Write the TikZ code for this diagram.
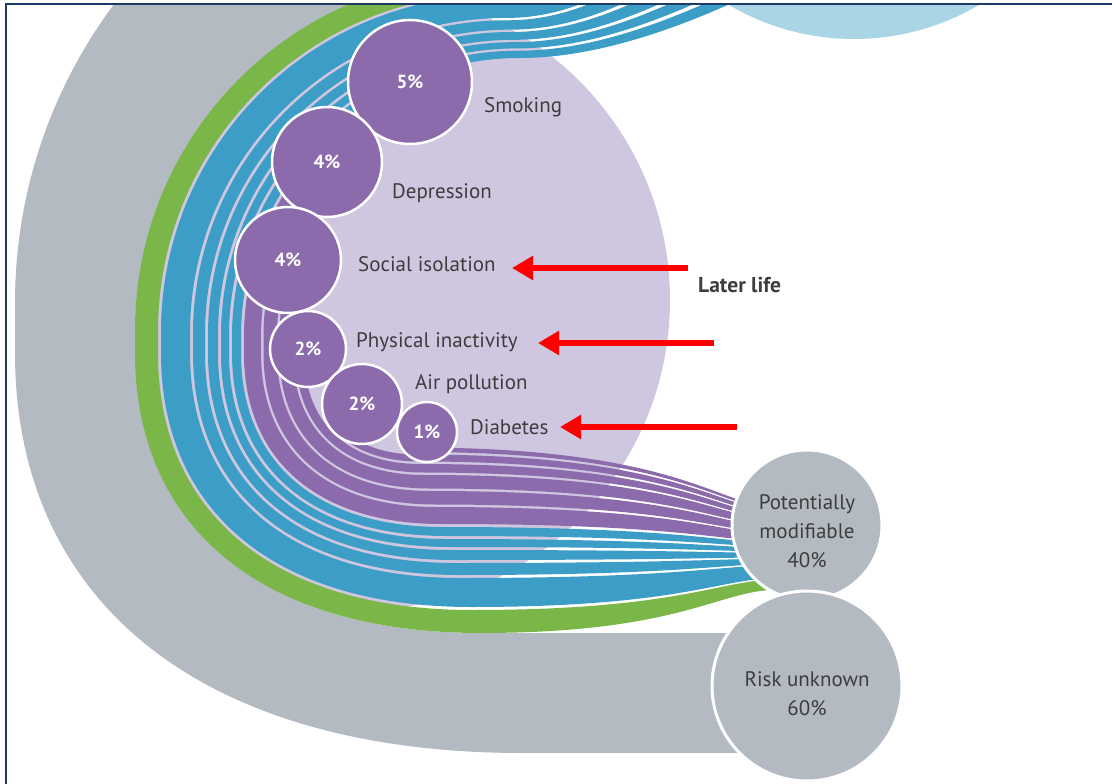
\documentclass[tikz,border=0pt]{standalone}
\usepackage{fontspec}
\setmainfont{PT Sans}
\usetikzlibrary{arrows.meta}

\definecolor{bandgray}{HTML}{B4BAC1}
\definecolor{bandgreen}{HTML}{7AB648}
\definecolor{bandblue}{HTML}{3C9EC6}
\definecolor{bandpurple}{HTML}{8C6BAC}
\definecolor{lavender}{HTML}{CFC6E0}
\definecolor{skyblue}{HTML}{A9D5E4}
\definecolor{labelgray}{HTML}{3D3D3D}
\definecolor{framenavy}{HTML}{1C3A63}
\definecolor{arrowred}{HTML}{FF0000}

% Geometry of one ribbon edge lying #1 units inside the outer rim.
% Results are stored in macros whose names start with the prefix #2.
\newcommand\edgeparams[2]{%
  \pgfmathsetmacro\tmpd{#1}%
  \pgfmathsetmacro\tmpt{max(0,min(1,(\tmpd-120)/105))}%
  \pgfmathsetmacro\tmpbx{523-0.3541*\tmpd}%
  \expandafter\pgfmathsetmacro\csname #2cx\endcsname{490+30*\tmpt}%
  \expandafter\pgfmathsetmacro\csname #2cy\endcsname{330+7*\tmpt}%
  \expandafter\pgfmathsetmacro\csname #2Rt\endcsname{490+30*\tmpt-15-\tmpd}%
  \expandafter\pgfmathsetmacro\csname #2Ty\endcsname{330+7*\tmpt-(490+30*\tmpt-15-\tmpd)}%
  \expandafter\pgfmathsetmacro\csname #2Lx\endcsname{15+\tmpd}%
  \expandafter\pgfmathsetmacro\csname #2Bx\endcsname{\tmpbx}%
  \expandafter\pgfmathsetmacro\csname #2By\endcsname{753-\tmpd}%
  \expandafter\pgfmathsetmacro\csname #2Ky\endcsname{353+0.62*(400-\tmpd)}%
  \expandafter\pgfmathsetmacro\csname #2Kx\endcsname{\tmpbx-0.636*(\tmpbx-15-\tmpd)}%
  \expandafter\pgfmathsetmacro\csname #2yE\endcsname{590-0.4474*(\tmpd-120)}%
  \expandafter\pgfmathsetmacro\csname #2Ex\endcsname{650+120*\tmpt}%
  \expandafter\pgfmathsetmacro\csname #2Ey\endcsname{-120+105*\tmpt}%
  \expandafter\pgfmathsetmacro\csname #2Ca\endcsname{650+120*\tmpt-80}%
  \expandafter\pgfmathsetmacro\csname #2Cb\endcsname{-120+105*\tmpt+40}%
  \expandafter\pgfmathsetmacro\csname #2Cc\endcsname{490+30*\tmpt+80}%
}

% One ribbon between the insets #1 (outer) and #2 (inner), filled with #3.
\newcommand\ribbon[3]{%
  \edgeparams{#1}{A}\edgeparams{#2}{B}%
  \fill[#3] (\AEx,\AEy) .. controls (\ACa,\ACb) and (\ACc,\ATy) .. (\Acx,\ATy)
    arc[start angle=270,end angle=180,radius=\ARt] -- (\ALx,353)
    .. controls (\ALx,\AKy) and (\AKx,\ABy) .. (\ABx,\ABy)
    .. controls (680,\ABy) and (720,\AyE) .. (775,\AyE)
    -- (775,\ByE) .. controls (720,\ByE) and (680,\BBy) .. (\BBx,\BBy)
    .. controls (\BKx,\BBy) and (\BLx,\BKy) .. (\BLx,353) -- (\BLx,\Bcy)
    arc[start angle=180,end angle=270,radius=\BRt]
    .. controls (\BCc,\BTy) and (\BCa,\BCb) .. (\BEx,\BEy) -- cycle;%
}

% A later-life ribbon that starts under its bubble: cut along the ray
% from (#3,#4) at angle #5 and keep the downstream part.
\newcommand\factorribbon[5]{%
  \begin{scope}
    \clip (#3,#4) -- +(#5:1200) -- +({#5*2/3}:1200) -- +({#5/3}:1200) -- +(0:1200) -- cycle;
    \ribbon{#1}{#2}{bandpurple}
  \end{scope}%
}

\begin{document}
\begin{tikzpicture}[x=1pt,y=-1pt,
  bubble/.style={circle,fill=bandpurple,draw=white,line width=2.5pt,inner sep=0pt,
    text=white,font=\fontsize{19}{22}\selectfont\bfseries},
  factorlabel/.style={anchor=base west,text=labelgray,font=\fontsize{21}{25}\selectfont,inner sep=0pt},
  shareball/.style={circle,fill=bandgray,draw=white,line width=3pt,inner sep=0pt},
  sharetext/.style={align=center,text=labelgray,font=\fontsize{21}{29}\selectfont,inner sep=0pt},
  pointer/.style={draw=arrowred,line width=6.5pt,-{Triangle[length=21pt,width=23pt]}}]

\useasboundingbox (0,0) rectangle (1112,784);

\begin{scope}
  \clip (7,5) rectangle (1112,784);
  % background disc behind the later-life factors
  \fill[lavender] (360,300) circle[radius=310];

  % unknown-risk band
  \edgeparams{120}{G}
  \fill[bandgray] (515,-197) arc[start angle=270,end angle=180,radius=500] -- (15,353)
    .. controls (15,601) and (200,753) .. (523,753) -- (770,753) -- (770,633) -- (\GBx,633)
    .. controls (\GKx,633) and (135,\GKy) .. (135,353) -- (135,330)
    arc[start angle=180,end angle=270,radius=355] -- cycle;

  % early life
  \ribbon{120}{143}{bandgreen}
  % midlife
  \ribbon{146}{175}{bandblue}
  \ribbon{178}{190}{bandblue}
  \ribbon{193}{203}{bandblue}
  \ribbon{206}{214}{bandblue}
  \ribbon{217}{226}{bandblue}
  % later life
  \factorribbon{229}{246}{520}{337}{246.7}
  \factorribbon{248.5}{262}{520}{337}{222.2}
  \factorribbon{264.5}{278}{520}{337}{198.4}
  \factorribbon{280.5}{289}{415}{353}{182.1}
  \factorribbon{291.5}{298.5}{415}{353}{136.2}
  \factorribbon{301}{305.5}{415}{353}{81.4}

  \fill[skyblue] (854,-207) circle[radius=246];
\end{scope}

% later-life factors
\node[bubble,minimum size=124pt] (smk) at (410,82) {5\%};
\node[bubble,minimum size=110pt] (dep) at (327,162) {4\%};
\node[bubble,minimum size=106pt] (soc) at (288,260) {4\%};
\node[bubble,minimum size=76pt] (phy) at (308,349) {2\%};
\node[bubble,minimum size=80pt] (air) at (362,404) {2\%};
\node[bubble,minimum size=60pt] (dia) at (427,432) {1\%};

\node[factorlabel] (lsmk) at (484,113) {Smoking};
\node[factorlabel] (ldep) at (392,198) {Depression};
\node[factorlabel] (lsoc) at (358,271) {Social isolation};
\node[factorlabel] (lphy) at (356,347) {Physical inactivity};
\node[factorlabel] (lair) at (415,389) {Air pollution};
\node[factorlabel] (ldia) at (470,434) {Diabetes};
\node[factorlabel,font=\fontsize{21.5}{25}\selectfont\bfseries] (later) at (698,292) {Later life};

% totals
\node[shareball,minimum size=150pt] (pm) at (807,525) {};
\node[sharetext] (pmtext) at (807,531) {Potentially\\modifiable\\40\%};
\node[shareball,minimum size=190pt] (ru) at (807,686) {};
\node[sharetext] (rutext) at (807,694) {Risk unknown\\60\%};

% highlight arrows
\coordinate (p1s) at (688,268); \coordinate (p1e) at (512,268);
\coordinate (p2s) at (714,343); \coordinate (p2e) at (538,343);
\coordinate (p3s) at (737,427); \coordinate (p3e) at (560,427);
\draw[pointer] (p1s) -- (p1e);
\draw[pointer] (p2s) -- (p2e);
\draw[pointer] (p3s) -- (p3e);

% frame
\draw[framenavy,line width=2.2pt] (6,784) -- (6,4) -- (1112,4);
\end{tikzpicture}
\end{document}
